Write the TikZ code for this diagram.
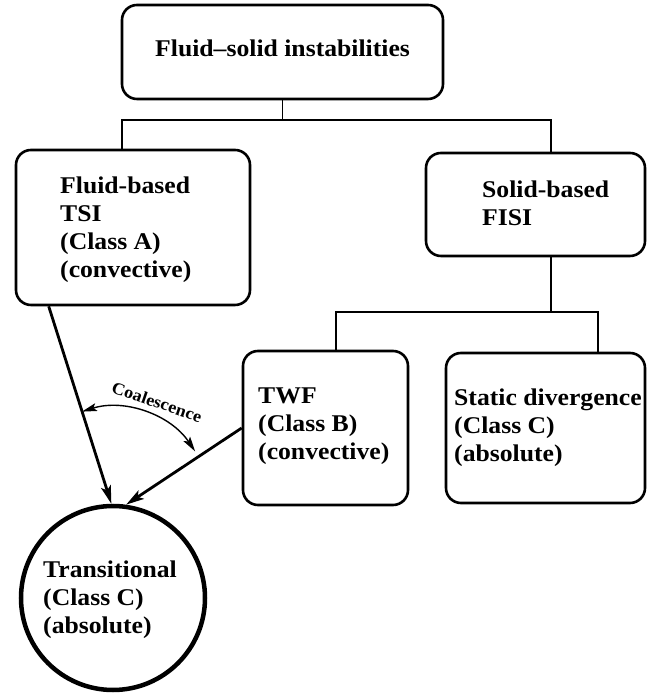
\documentclass[tikz,border=0pt]{standalone}
\usepackage{fontspec}
\setmainfont{Liberation Serif}[FakeStretch=1.07]
\usetikzlibrary{arrows.meta,calc}
\begin{document}
\begin{tikzpicture}[x=1pt,y=1pt,
  box/.style={draw, line width=2.6pt, rounded corners=15pt, inner sep=0pt},
  lbl/.style={font=\bfseries\fontsize{24}{28}\selectfont, align=left, inner sep=0pt, anchor=north west},
  conn/.style={line width=1.5pt},
  bigarrow/.style={line width=2.8pt, -{Stealth[length=18pt,width=10pt,inset=4pt]}},
  coal/.style={line width=1.4pt, {Stealth[length=15pt,width=8pt,inset=3pt]}-{Stealth[length=15pt,width=8pt,inset=3pt]}}]
\useasboundingbox (0,0) rectangle (647,695);
% boxes
\node[box, minimum width=321pt, minimum height=94pt] (top) at (282.5,643) {};
\node[box, minimum width=234pt, minimum height=155pt] (lbox) at (133,467.5) {};
\node[box, minimum width=219pt, minimum height=103pt] (rbox) at (535.5,490.5) {};
\node[box, minimum width=165pt, minimum height=154pt] (twf) at (325.5,267) {};
\node[box, minimum width=199pt, minimum height=150pt] (stat) at (545.5,267) {};
\node[draw, circle, line width=4.5pt, minimum size=184pt, inner sep=0pt] (circ) at (113,97) {};
% texts
\node[lbl] (toptxt) at (155,655) {Fluid–solid instabilities};
\node[lbl] (ltxt) at (60,518) {Fluid-based\\TSI\\(Class A)\\(convective)};
\node[lbl] (rtxt) at (482,514) {Solid-based\\FISI};
\node[lbl] (twftxt) at (258,307) {TWF\\(Class B)\\(convective)};
\node[lbl] (stattxt) at (454,306) {Static divergence\\(Class C)\\(absolute)};
\node[lbl] (circtxt) at (43,134) {Transitional\\(Class C)\\(absolute)};
% tree connectors
\coordinate (ja) at (122,575);
\coordinate (jb) at (551,575);
\coordinate (jc) at (336,383);
\coordinate (jd) at (598,383);
\draw[conn] (top.south) -- (top.south |- ja);
\draw[conn] (lbox.north -| ja) -- (ja) -- (jb) -- (rbox.north -| jb);
\draw[conn] (rbox.south -| jb) -- (jb |- jc);
\draw[conn] (twf.north -| jc) -- (jc) -- (jd) -- (stat.north -| jd);
% arrows
\draw[bigarrow] ($(lbox.south west)+(34,0)$) -- (circ.91);
\draw[bigarrow] (twf.west) -- (circ.82);
\coordinate (cen) at (112,188);
\draw[coal] ($(cen)+(107.5:100)$) arc[start angle=107.5, end angle=33.8, radius=100];
\node[font=\bfseries\fontsize{17}{17}\selectfont, rotate=-19, inner sep=0pt] (coaltxt) at (157,293) {Coalescence};
\end{tikzpicture}
\end{document}
